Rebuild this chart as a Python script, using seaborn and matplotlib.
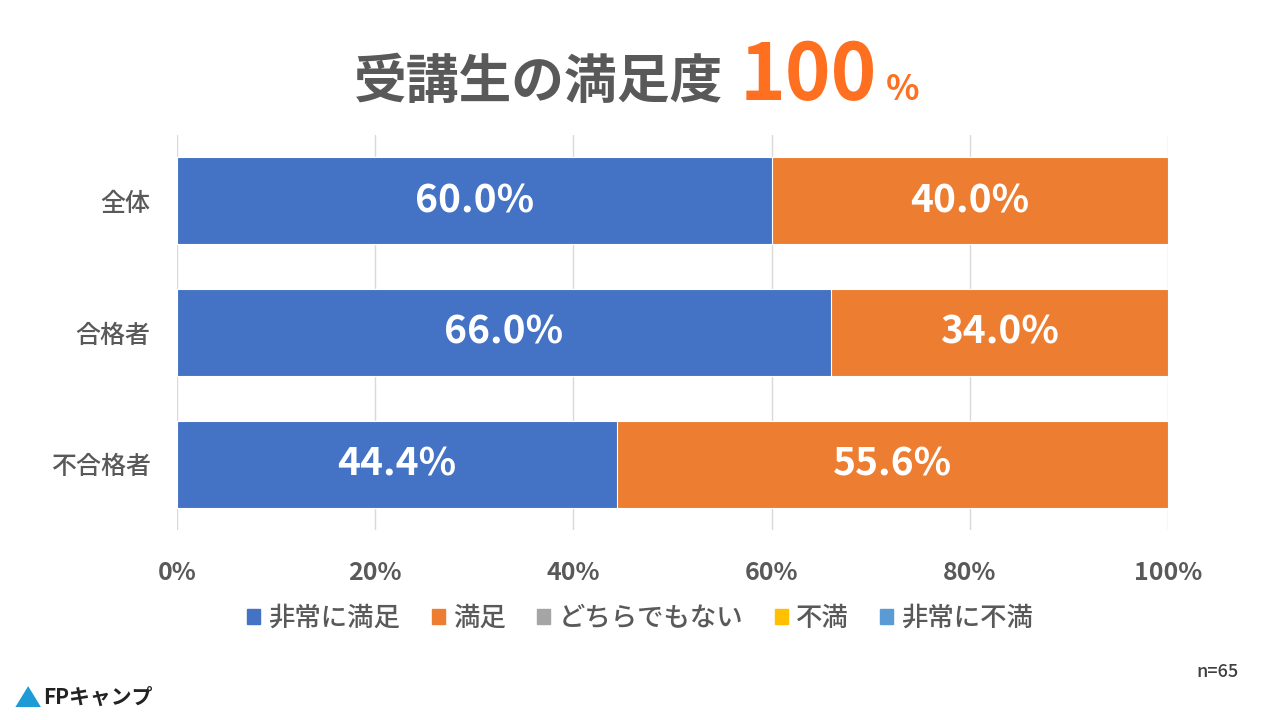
import matplotlib
matplotlib.use("Agg")
import matplotlib.pyplot as plt
import seaborn as sns
import pandas as pd
from matplotlib.patches import Rectangle, Polygon

categories = ["全体", "合格者", "不合格者"]
series_names = ["非常に満足", "満足", "どちらでもない", "不満", "非常に不満"]
very_satisfied = [60.0, 66.0, 44.4]
satisfied = [40.0, 34.0, 55.6]
neutral = [0.0, 0.0, 0.0]
dissatisfied = [0.0, 0.0, 0.0]
very_dissatisfied = [0.0, 0.0, 0.0]
xticks = [0, 20, 40, 60, 80, 100]
xtick_labels = ["0%", "20%", "40%", "60%", "80%", "100%"]
colors = ["#4472C4", "#ED7D31", "#A5A5A5", "#FFC000", "#5B9BD5"]

sns.set_theme(style="white")
FONT = ["Noto Sans CJK JP", "DejaVu Sans"]
plt.rcParams["font.family"] = FONT

fig = plt.figure(figsize=(12.8, 7.2), dpi=100)
ax = fig.add_axes([0.1383, 0.2639, 0.7742, 0.5486])

series = [very_satisfied, satisfied, neutral, dissatisfied, very_dissatisfied]
cum = []
running = [0.0] * len(categories)
for s in series:
    running = [r + v for r, v in zip(running, s)]
    cum.append(list(running))

for i in reversed(range(len(series))):
    df = pd.DataFrame({"cat": categories, "val": cum[i]})
    sns.barplot(data=df, x="val", y="cat", orient="h", color=colors[i],
                width=0.66, ax=ax, saturation=1, edgecolor="white",
                linewidth=0.8, zorder=3)

for i, s in enumerate(series):
    for j, v in enumerate(s):
        if v > 0:
            start = cum[i][j] - v
            ax.text(start + v / 2, j, f"{v:.1f}%", ha="center", va="center",
                    color="white", fontsize=28, fontweight="bold",
                    family=FONT, zorder=5)

ax.set_xlim(0, 100)
ax.set_ylim(2.5, -0.5)
ax.set_xticks(xticks)
ax.set_xticklabels(xtick_labels)
ax.grid(axis="x", color="#D9D9D9", linewidth=1, zorder=0)
ax.set_axisbelow(True)
for sp in ax.spines.values():
    sp.set_visible(False)
ax.tick_params(axis="x", length=0, pad=22, labelsize=18, labelcolor="#595959")
ax.tick_params(axis="y", length=0, pad=19, labelsize=18, labelcolor="#595959")
for lab in ax.get_xticklabels():
    lab.set_fontweight("bold")
for lab in ax.get_yticklabels():
    lab.set_fontweight("medium")
ax.set_xlabel("")
ax.set_ylabel("")

fig.text(0.565, 0.885, "受講生の満足度", ha="right", va="center",
         fontsize=38, fontweight="bold", color="#595959", family=FONT)
fig.text(0.578, 0.893, "100", ha="left", va="center",
         fontsize=56, fontweight="bold", color="#FF6F20", family=FONT)
fig.text(0.692, 0.876, "%", ha="left", va="center",
         fontsize=25, fontweight="bold", color="#FF6F20", family=FONT)

handles = [Rectangle((0, 0), 1, 1, color=c) for c in colors]
leg = fig.legend(handles, series_names, loc="center", bbox_to_anchor=(0.5, 0.141),
                 ncol=5, frameon=False, fontsize=19, handlelength=0.5,
                 handleheight=0.5, handletextpad=0.3, columnspacing=1.2,
                 prop={"family": FONT, "size": 19, "weight": "medium"})
for t in leg.get_texts():
    t.set_color("#595959")

fig.text(0.968, 0.066, "n = 6 5".replace(" ", "\u2009") if False else "n=65",
         ha="right", va="center", fontsize=13, fontweight="medium",
         color="#404040", family=FONT)

fig.patches.append(Polygon([[0.012, 0.018], [0.032, 0.018], [0.022, 0.047]],
                           closed=True, transform=fig.transFigure,
                           facecolor="#1E9BD7", edgecolor="none"))
fig.text(0.034, 0.031, "FPキャンプ", ha="left", va="center", fontsize=15,
         fontweight="bold", color="#222222", family=FONT)

fig.savefig("out.png", dpi=100)
